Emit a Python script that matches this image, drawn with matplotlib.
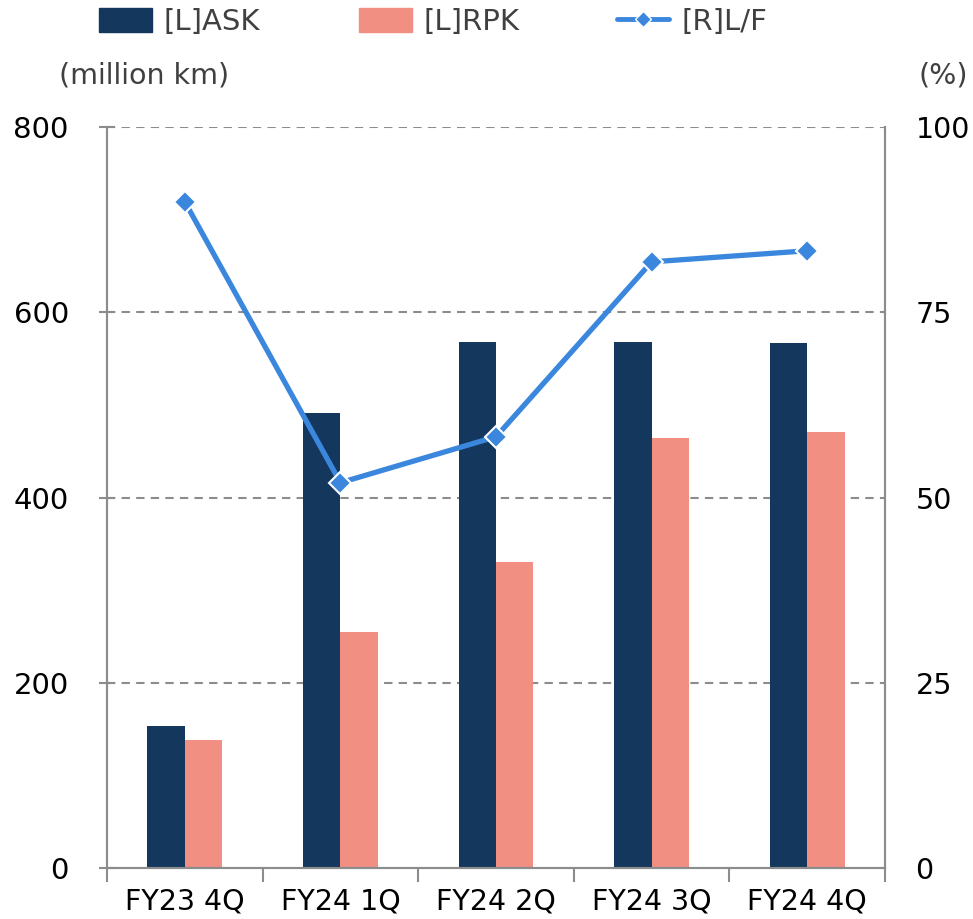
import numpy as np
import matplotlib
matplotlib.use("Agg")
import matplotlib.pyplot as plt
from matplotlib.lines import Line2D
from matplotlib.patches import Patch

# data
quarters = ["FY23 4Q", "FY24 1Q", "FY24 2Q", "FY24 3Q", "FY24 4Q"]
ask = [153, 491, 568, 568, 567]
rpk = [138, 255, 330, 464, 471]
load_factor = [89.9, 52.0, 58.2, 81.8, 83.3]

ASK_COLOR = "#14375E"
RPK_COLOR = "#F08F82"
LF_COLOR = "#3A87DD"
AXIS_GRAY = "#8C8C8C"
TEXT_GRAY = "#404040"

plt.rcParams["font.family"] = ["DejaVu Sans"]

fig = plt.figure(figsize=(9.73, 9.19), dpi=100)
ax = fig.add_axes([0.110, 0.0555, 0.7996, 0.8063])
ax2 = ax.twinx()

x = np.arange(len(quarters))
w = 0.24
ax.bar(x - w / 2, ask, width=w, color=ASK_COLOR, zorder=2)
ax.bar(x + w / 2, rpk, width=w, color=RPK_COLOR, zorder=2)

ax2.plot(x, load_factor, color=LF_COLOR, lw=3.8, marker="D", ms=11,
         mec="white", mew=1.5, zorder=3)

ax.set_xlim(-0.5, len(quarters) - 0.5)
ax.set_ylim(0, 800)
ax2.set_ylim(0, 100)
ax.set_yticks([0, 200, 400, 600, 800])
ax2.set_yticks([0, 25, 50, 75, 100])

# dashed grid lines
for v in [200, 400, 600, 800]:
    ax.axhline(v, color=AXIS_GRAY, lw=1.5, ls=(0, (4, 3)), zorder=1)

# category boundary ticks on x axis
ax.set_xticks(np.arange(-0.5, len(quarters), 1.0))
ax.set_xticklabels([])
ax.set_xticks(x, minor=True)
ax.set_xticklabels(quarters, minor=True, fontsize=20.5)
ax.tick_params(axis="x", which="major", length=10, width=1.5, color=AXIS_GRAY)
ax.tick_params(axis="x", which="minor", length=0, pad=14)

ax.tick_params(axis="y", direction="inout", length=11, width=1.5,
               color=AXIS_GRAY, labelsize=21, pad=22)
ax2.tick_params(axis="y", length=0, labelsize=20.5, pad=22)

for a in (ax, ax2):
    a.spines["top"].set_visible(False)
    for s in ("left", "right", "bottom"):
        a.spines[s].set_color(AXIS_GRAY)
        a.spines[s].set_linewidth(1.5)

fig.text(0.061, 0.918, "(million km)", fontsize=20.5, color=TEXT_GRAY,
         ha="left", va="center")
fig.text(0.995, 0.918, "(%)", fontsize=20.5, color=TEXT_GRAY,
         ha="right", va="center")

handles = [
    Patch(color=ASK_COLOR, label="[L]ASK"),
    Patch(color=RPK_COLOR, label="[L]RPK"),
    Line2D([0], [0], color=LF_COLOR, lw=3.5, marker="D", ms=8,
           mec="white", mew=1, solid_capstyle="round", label="[R]L/F"),
]
legend_x = [0.102, 0.369, 0.634]
for h, lx in zip(handles, legend_x):
    leg = fig.legend(handles=[h], loc="center left", bbox_to_anchor=(lx, 0.976),
                     frameon=False, fontsize=21, handlelength=1.8,
                     handleheight=0.85, handletextpad=0.4,
                     borderaxespad=0, borderpad=0)
    for t in leg.get_texts():
        t.set_color(TEXT_GRAY)

fig.savefig("out.png", dpi=100)
